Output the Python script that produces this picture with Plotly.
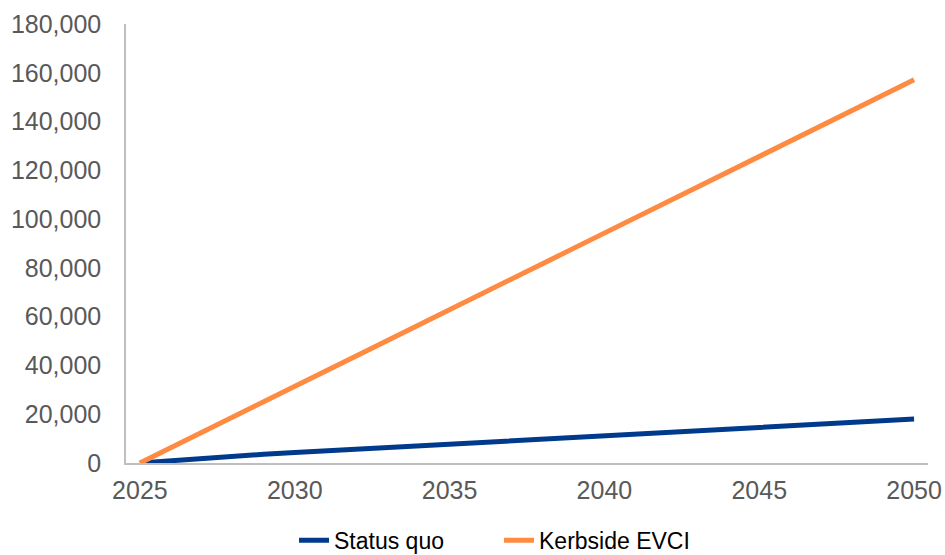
import plotly.graph_objects as go

years = list(range(2025, 2051))
status_quo = [0, 1000, 2000, 3000, 3600, 4300, 5000, 5700, 6400, 7100,
              7800, 8500, 9200, 9900, 10600, 11100, 11800, 12500, 13200, 13800,
              14500, 15200, 15900, 16600, 17300, 18000]
kerbside_evci = [0, 6200, 12500, 18800, 25100, 31400, 37700, 44000, 50200, 56500,
                 62800, 69100, 75400, 81700, 88000, 94300, 100500, 106800, 113100, 119400,
                 125700, 132000, 138300, 144500, 150800, 157100]
x_ticks = [2025, 2030, 2035, 2040, 2045, 2050]
y_ticks = list(range(0, 180001, 20000))

fig = go.Figure()
fig.add_trace(go.Scatter(x=years, y=status_quo, mode="lines", name="Status quo",
                         line=dict(color="#003A8C", width=5)))
fig.add_trace(go.Scatter(x=years, y=kerbside_evci, mode="lines", name="Kerbside EVCI",
                         line=dict(color="#FF8A41", width=5)))

fig.update_layout(
    width=945, height=555,
    margin=dict(l=126, r=17, t=24, b=92, autoexpand=False),
    paper_bgcolor="white", plot_bgcolor="white",
    font=dict(family="Liberation Sans, Arial, sans-serif", size=25, color="#595959"),
    showlegend=True,
    legend=dict(orientation="h", x=0.2095, xanchor="left", y=-0.225, yanchor="bottom",
                font=dict(size=23, color="#000000"), entrywidth=160,
                traceorder="normal"),
    xaxis=dict(range=[2024.55, 2050.45], tickvals=x_ticks, showgrid=False,
               showline=True, linecolor="#BFBFBF", linewidth=1.5, ticks="",
               zeroline=False, tickfont=dict(size=25, color="#595959"),
               ticklabelstandoff=4),
    yaxis=dict(range=[0, 180000], tickvals=y_ticks, tickformat=",", showgrid=False,
               showline=True, linecolor="#BFBFBF", linewidth=1.5, ticks="",
               zeroline=False, tickfont=dict(size=25, color="#595959"), ticklabelstandoff=18),
)

fig.write_html("out.html",
               config={"displayModeBar": False},
               post_script="document.body.style.margin='0';document.body.style.overflow='hidden';")
